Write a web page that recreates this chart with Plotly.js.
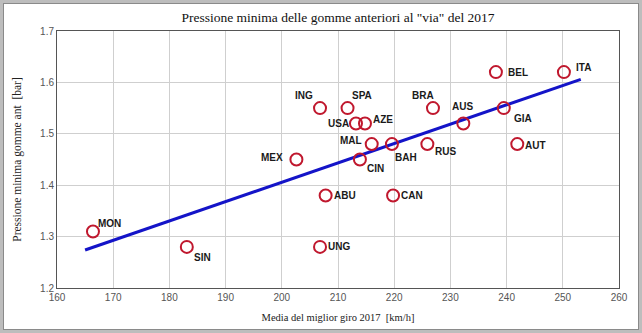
<!DOCTYPE html>
<html>
<head>
<meta charset="utf-8">
<script src="https://cdn.plot.ly/plotly-3.0.1.min.js"></script>
<style>
  html, body { margin: 0; padding: 0; background: #fff; }
  #wrap { position: relative; width: 642px; height: 333px; }
  #chart { position: absolute; left: 0; top: 0; width: 642px; height: 333px; }
  #frame { position: absolute; left: 0; top: 0; width: 642px; height: 333px; box-sizing: border-box;
           border: 3px solid #bdbdbd; pointer-events: none; }
  #frame2 { position: absolute; left: 3px; top: 3px; width: 636px; height: 327px; box-sizing: border-box;
           border: 1px solid #8a8a8a; pointer-events: none; }
</style>
</head>
<body>
<div id="wrap">
  <div id="chart"></div>
  <div id="frame"></div>
  <div id="frame2"></div>
</div>
<script>
// Data
const circuits = ["MON","SIN","UNG","ABU","CAN","MEX","ING","SPA","USA","AZE","MAL","BAH","CIN","RUS","BRA","AUS","GIA","AUT","BEL","ITA"];
const speed    = [166.4, 183.1, 206.8, 207.8, 219.8, 202.6, 206.8, 211.7, 213.2, 214.8, 216.0, 219.6, 213.9, 225.9, 226.9, 232.3, 239.5, 241.9, 238.1, 250.2];
const pressure = [1.31, 1.28, 1.28, 1.38, 1.38, 1.45, 1.55, 1.55, 1.52, 1.52, 1.48, 1.48, 1.45, 1.48, 1.55, 1.52, 1.55, 1.48, 1.62, 1.62];
// Trend line endpoints (as drawn in the reference)
const trendX = [165.0, 253.2];
const trendY = [1.274, 1.606];
// Tick values
const xTicks = [160, 170, 180, 190, 200, 210, 220, 230, 240, 250, 260];
const yTicks = [1.2, 1.3, 1.4, 1.5, 1.6, 1.7];

// Label offsets (style, pixels)
const labelDX = [17, 16, 19, 19, 19, -24, -16, 14, -17, 18, -21, 14, 16, 18, -10, -1, 19, 18, 22, 20];
const labelDY = [-8, 11, 0, 0, 0, -2, -13, -13, 0, -4, -4, 13, 9, 7, -13, -17, 10, 1, 0, -5];

const traces = [
  {
    x: trendX, y: trendY, type: 'scatter', mode: 'lines',
    line: { color: '#1414c8', width: 3 }, hoverinfo: 'skip', showlegend: false
  },
  {
    x: speed, y: pressure, type: 'scatter', mode: 'markers',
    marker: { symbol: 'circle-open', size: 12, color: '#c0182e', line: { width: 2, color: '#c0182e' } },
    text: circuits, showlegend: false
  }
];

const annotations = circuits.map((c, i) => ({
  x: speed[i], y: pressure[i], xref: 'x', yref: 'y', text: c, showarrow: false,
  xshift: labelDX[i], yshift: -labelDY[i], xanchor: 'center', yanchor: 'middle',
  font: { family: 'Liberation Sans, Arial, sans-serif', size: 10, color: '#1a1a1a', weight: 'bold' }
}));

const layout = {
  width: 642, height: 333,
  margin: { l: 57, r: 23, t: 31, b: 45, pad: 0 },
  paper_bgcolor: '#ffffff', plot_bgcolor: '#ffffff',
  title: {
    text: 'Pressione minima delle gomme anteriori al "via" del 2017',
    font: { family: 'Liberation Serif, Times New Roman, serif', size: 13.5, color: '#111' },
    xref: 'paper', yref: 'container', x: 0.5, xanchor: 'center', y: 1 - 17 / 333, yanchor: 'middle'
  },
  xaxis: {
    range: [160, 260], tickvals: xTicks, ticktext: xTicks.map(String),
    showgrid: true, gridcolor: '#cfcfcf', gridwidth: 1,
    showline: true, linecolor: '#555', linewidth: 1, mirror: true,
    ticks: '', zeroline: false,
    tickfont: { family: 'Liberation Sans, Arial, sans-serif', size: 10, color: '#555' },
    title: { text: 'Media del miglior giro 2017  [km/h]', standoff: 11,
             font: { family: 'Liberation Serif, Times New Roman, serif', size: 10.5, color: '#222' } }
  },
  yaxis: {
    range: [1.2, 1.7], tickvals: yTicks, ticktext: yTicks.map(v => v.toFixed(1)),
    showgrid: true, gridcolor: '#cfcfcf', gridwidth: 1,
    showline: true, linecolor: '#555', linewidth: 1, mirror: true,
    ticks: '', zeroline: false,
    tickfont: { family: 'Liberation Sans, Arial, sans-serif', size: 10, color: '#555' },
    title: { text: 'Pressione minima gomme ant  [bar]', standoff: 16,
             font: { family: 'Liberation Serif, Times New Roman, serif', size: 11.5, color: '#222' } }
  },
  annotations: annotations,
  showlegend: false
};

Plotly.newPlot('chart', traces, layout, { staticPlot: true, displayModeBar: false });
</script>
</body>
</html>
